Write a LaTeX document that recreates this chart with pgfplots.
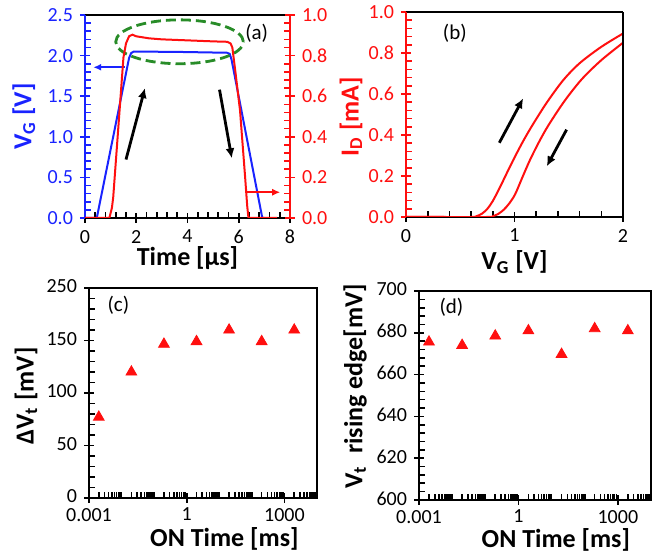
\documentclass[border=0pt]{standalone}
\usepackage{fontspec}
\setmainfont{Carlito}
\usepackage{pgfplots}
\pgfplotsset{compat=1.18}
\usetikzlibrary{arrows.meta}
\definecolor{vblue}{RGB}{25,35,255}
\definecolor{ired}{RGB}{255,15,15}
\definecolor{egreen}{RGB}{40,140,40}
\newcommand{\lblfont}{\bfseries\fontsize{13}{15}\selectfont}
\pgfplotsset{
  common/.style={
    scale only axis, anchor=south west,
    tick align=center,
    major tick length=5pt, minor tick length=3.2pt,
    every tick/.style={line width=0.8pt, black},
    axis line style={line width=1pt,-},
    tick label style={font=\fontsize{10}{12}\selectfont},
    clip mode=individual,
    minor x tick style={yshift=1.6pt},
    minor y tick style={xshift=1.6pt},
    xtick pos=left, ytick pos=left,
  },
  logminor/.style={minor xtick={0.002,0.003,0.004,0.005,0.006,0.007,0.008,0.009,0.01,0.02,0.03,0.04,0.05,0.06,0.07,0.08,0.09,0.1,0.2,0.3,0.4,0.5,0.6,0.7,0.8,0.9,2,3,4,5,6,7,8,9,10,20,30,40,50,60,70,80,90,100,200,300,400,500,600,700,800,900,2000,3000,4000,5000,6000,7000,8000,9000}},
}
\begin{document}
\begin{tikzpicture}
\useasboundingbox (0,0) rectangle (330pt,275.5pt);

% ---------------- (a) left axis: V_G ----------------
\begin{axis}[common, at={(42.5pt,166.5pt)}, width=102.5pt, height=101.5pt,
  xmin=0, xmax=8, ymin=0, ymax=2.5,
  axis x line*=box, axis y line*=left, axis line style={-},
  y axis line style={vblue},
  xtick pos=left, xticklabel pos=left,
  xtick={0,2,4,6,8}, xticklabels={0,2,4,6,8}, minor x tick num=4,
  ytick={0,0.5,1,1.5,2,2.5}, yticklabels={0.0,0.5,1.0,1.5,2.0,2.5}, minor y tick num=4,
  yticklabel style={text=vblue},
  major y tick style={vblue}, minor y tick style={vblue},
  xlabel={Time [μs]}, ylabel={V\textsubscript{G} [V]},
  every axis x label/.style={at={(axis description cs:0.5,-0.195)}, anchor=center, font=\lblfont},
  every axis y label/.style={at={(axis description cs:-0.298,0.5)}, anchor=center, rotate=90, text=vblue, font=\lblfont},
]
\addplot[vblue, line width=1pt] coordinates {
  (0,0) (0.46,0) (1.72,1.97) (1.8,2.03) (1.9,2.05) (3.7,2.045) (5.55,2.035)
  (5.65,2.02) (5.72,1.95) (6.92,0) (7.0,0)};
\draw[egreen, line width=1.4pt, dash pattern=on 5pt off 2.5pt] (axis cs:3.69,2.17) ellipse [x radius=2.49, y radius=0.27];
\node[font=\fontsize{10.5}{12}\selectfont] at (axis cs:6.7,2.27) {(a)};
\draw[vblue, line width=0.8pt, -{Latex[length=4pt,width=3.5pt]}] (axis cs:1.56,1.856) -- (axis cs:0.32,1.856);
\draw[ired, line width=0.8pt, -{Latex[length=4pt,width=3.5pt]}] (axis cs:6.32,0.317) -- (axis cs:7.62,0.317);
\draw[black, line width=1.4pt, -{Latex[length=5pt,width=4.5pt]}] (axis cs:1.6,0.72) -- (axis cs:2.34,1.60);
\draw[black, line width=1.4pt, -{Latex[length=5pt,width=4.5pt]}] (axis cs:5.25,1.58) -- (axis cs:5.73,0.735);
\end{axis}

% ---------------- (a) right axis: I_D ----------------
\begin{axis}[common, at={(42.5pt,166.5pt)}, width=102.5pt, height=101.5pt,
  xmin=0, xmax=8, ymin=0, ymax=1,
  axis x line=none, axis y line*=right, axis line style={-},
  y axis line style={ired},
  ytick pos=right, yticklabel pos=right,
  ytick={0,0.2,0.4,0.6,0.8,1}, yticklabels={0.0,0.2,0.4,0.6,0.8,1.0}, minor y tick num=4,
  yticklabel style={text=ired},
  major y tick style={ired}, minor y tick style={ired, xshift=-3.2pt},
  ylabel={I\textsubscript{D} [mA]},
  every axis y label/.style={at={(axis description cs:1.298,0.5)}, anchor=center, rotate=90, text=ired, font=\lblfont},
]
\addplot[ired, line width=1pt] coordinates {
  (0,0) (0.95,0) (1.05,0.05) (1.1,0.1) (1.5,0.79) (1.6,0.86) (1.72,0.895) (1.85,0.903)
  (2.0,0.895) (2.5,0.885) (3.0,0.88) (4.0,0.875) (5.0,0.87) (5.55,0.868) (5.68,0.86)
  (5.75,0.84) (5.86,0.73) (6.05,0.53) (6.25,0.2) (6.33,0.06) (6.38,0) (7.5,0)};
\end{axis}

% ---------------- (b) ----------------
\begin{axis}[common, at={(203pt,167pt)}, width=108.5pt, height=102.5pt,
  xmin=0, xmax=2, ymin=0, ymax=1,
  axis x line*=box, axis y line*=left, axis line style={-},
  y axis line style={ired},
  xtick pos=left, xticklabel pos=left,
  xtick={0,1,2}, xticklabels={0,1,2}, minor x tick num=4,
  ytick={0,0.2,0.4,0.6,0.8,1}, yticklabels={0.0,0.2,0.4,0.6,0.8,1.0}, minor y tick num=4,
  yticklabel style={text=ired},
  major y tick style={ired}, minor y tick style={ired},
  xlabel={V\textsubscript{G} [V]},
  every axis x label/.style={at={(axis description cs:0.5,-0.22)}, anchor=center, font=\lblfont},
]
\addplot[ired, line width=1pt, smooth] coordinates {
  (0,0) (0.3,0) (0.6,0) (0.65,0.004) (0.7,0.016) (0.75,0.04) (0.8,0.078) (0.866,0.145)
  (0.93,0.215) (1.0,0.29) (1.085,0.375) (1.17,0.452) (1.3,0.56) (1.45,0.668) (1.6,0.75)
  (1.8,0.83) (2.0,0.895)};
\addplot[ired, line width=1pt, smooth] coordinates {
  (0,0) (0.3,0) (0.75,0) (0.8,0.004) (0.85,0.015) (0.9,0.035) (0.95,0.065) (1.005,0.11)
  (1.07,0.19) (1.14,0.275) (1.22,0.36) (1.31,0.445) (1.46,0.565) (1.62,0.672) (1.8,0.765)
  (2.0,0.85)};
\draw[black, line width=1pt] (rel axis cs:1,0) -- (rel axis cs:1,1);
\node[font=\fontsize{10.5}{12}\selectfont] at (axis cs:0.45,0.896) {(b)};
\draw[black, line width=1.4pt, -{Latex[length=5pt,width=4.5pt]}] (axis cs:0.86,0.362) -- (axis cs:1.08,0.579);
\draw[black, line width=1.4pt, -{Latex[length=5pt,width=4.5pt]}] (axis cs:1.48,0.426) -- (axis cs:1.297,0.247);
\end{axis}

% ---------------- (c) ----------------
\begin{axis}[common, xmode=log, at={(44.5pt,26.5pt)}, width=114pt, height=105pt,
  xmin=1e-3, xmax=1e4, ymin=0, ymax=200,
  xtick={0.001,1,1000}, xticklabels={0.001,1,1000}, logminor,
  xticklabel style={yshift=1pt},
  ytick={0,50,100,150,200}, yticklabels={0,50,100,150,250}, minor y tick num=4,
  yticklabel style={yshift=0.8pt},
  xlabel={ON Time [ms]}, ylabel={ΔV\textsubscript{t} [mV]},
  every axis x label/.style={at={(axis description cs:0.594,-0.195)}, anchor=center, font=\lblfont},
  every axis y label/.style={at={(axis description cs:-0.276,0.486)}, anchor=center, rotate=90, font=\lblfont},
]
\addplot[only marks, mark=triangle*, mark size=3.1pt, color=ired] coordinates {
  (0.002,77) (0.02,120) (0.2,146.5) (2,149) (20,160) (200,149) (2000,160)};
\node[font=\fontsize{10.5}{12}\selectfont] at (axis cs:0.008,184) {(c)};
\end{axis}

% ---------------- (d) ----------------
\begin{axis}[common, xmode=log, at={(209.5pt,25.5pt)}, width=116pt, height=104.5pt,
  xmin=1e-3, xmax=1e4, ymin=600, ymax=700,
  xtick={0.001,1,1000}, xticklabels={0.001,1,1000}, logminor,
  xticklabel style={yshift=1pt},
  ytick={600,620,640,660,680,700}, yticklabels={600,620,640,660,680,700}, minor y tick num=4,
  yticklabel style={yshift=0.8pt},
  xlabel={ON Time [ms]}, ylabel={V\textsubscript{t}\ \ rising edge[mV]},
  every axis x label/.style={at={(axis description cs:0.59,-0.19)}, anchor=center, font=\lblfont},
  every axis y label/.style={at={(axis description cs:-0.276,0.545)}, anchor=center, rotate=90, font=\lblfont},
]
\addplot[only marks, mark=triangle*, mark size=3.1pt, color=ired] coordinates {
  (0.002,675.6) (0.02,674) (0.2,678.5) (2,681) (20,669.7) (200,682) (2000,681)};
\node[font=\fontsize{10.5}{12}\selectfont] at (axis cs:0.0095,692) {(d)};
\end{axis}
\end{tikzpicture}
\end{document}
